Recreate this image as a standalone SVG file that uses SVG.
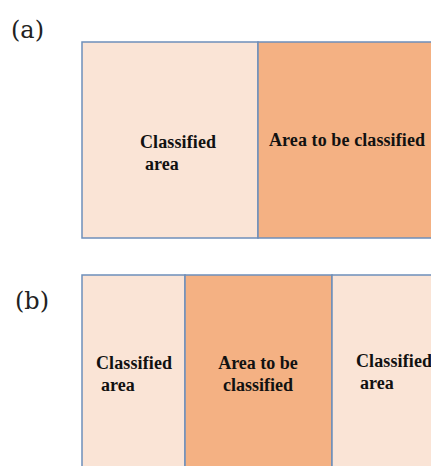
<svg xmlns="http://www.w3.org/2000/svg" width="431" height="466" viewBox="0 0 431 466">
<style>
.light{fill:#FAE4D6;stroke:#6E8FBA;stroke-width:1.5}
.dark{fill:#F4B183;stroke:#6E8FBA;stroke-width:1.5}
.t{font-family:'Liberation Serif','Times New Roman',serif;font-weight:bold;font-size:18px;fill:#111}
.lab{font-family:'DejaVu Serif','Liberation Serif',serif;font-size:24px;fill:#222}
</style>
<rect width="431" height="466" fill="#fff"/>
<text class="lab" x="11" y="38">(a)</text>
<g id="a-classified">
<rect class="light" x="82" y="42" width="176" height="196"/>
<text class="t" x="140" y="148" textLength="76">Classified</text>
<text class="t" x="145" y="170">area</text>
</g>
<g id="a-to-classify">
<rect class="dark" x="258" y="42" width="180" height="196"/>
<text class="t" x="269" y="146" textLength="156">Area to be classified</text>
</g>
<text class="lab" x="15" y="309">(b)</text>
<g id="b-classified-left">
<rect class="light" x="82" y="275" width="103" height="200"/>
<text class="t" x="96" y="369" textLength="76">Classified</text>
<text class="t" x="101" y="391">area</text>
</g>
<g id="b-to-classify">
<rect class="dark" x="185" y="275" width="147" height="200"/>
<text class="t" x="258" y="369" text-anchor="middle">Area to be</text>
<text class="t" x="258" y="391" text-anchor="middle">classified</text>
</g>
<g id="b-classified-right">
<rect class="light" x="332" y="275" width="110" height="200"/>
<text class="t" x="356" y="367" textLength="76">Classified</text>
<text class="t" x="360" y="389">area</text>
</g>
<g id="connectors"/>
</svg>
